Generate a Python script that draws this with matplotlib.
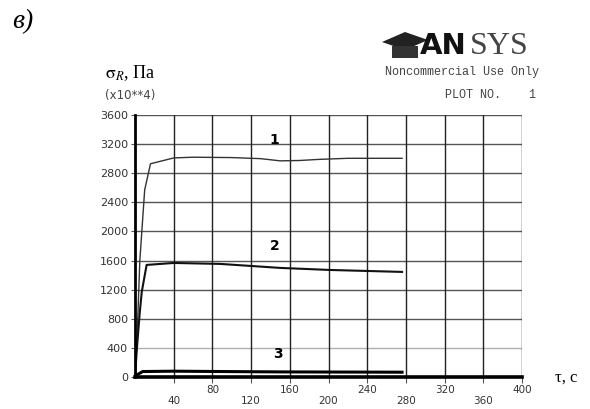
import matplotlib
matplotlib.use("Agg")
import matplotlib.pyplot as plt
from matplotlib.patches import Polygon

plt.rcParams['mathtext.fontset'] = 'stix'

# ---- data ----
t1 = [0, 2, 5, 10, 16, 25, 40, 60, 100, 130, 150, 170, 190, 220, 250, 276]
s1 = [0, 500, 1600, 2570, 2930, 2960, 3010, 3020, 3015, 3000, 2970, 2975, 2990, 3005, 3005, 3005]

t2 = [0, 2, 5, 7, 12, 40, 88, 150, 201, 276]
s2 = [0, 400, 900, 1170, 1540, 1567, 1554, 1499, 1471, 1444]

t3 = [0, 2, 8, 40, 80, 150, 276]
s3 = [0, 30, 75, 80, 76, 70, 66]

x_ticks = [40, 80, 120, 160, 200, 240, 280, 320, 360, 400]
y_ticks = [0, 400, 800, 1200, 1600, 2000, 2400, 2800, 3200, 3600]
curve_labels = ["1", "2", "3"]

W, H = 590, 409
fig = plt.figure(figsize=(W / 100, H / 100), dpi=100)
ax = fig.add_axes([135 / W, 1 - 377 / H, (522 - 135) / W, (377 - 115) / H])
ax.set_xlim(0, 400)
ax.set_ylim(0, 3600)

# grid
for yv in y_ticks[1:]:
    c = '#b0b0b0' if yv == 400 else '#555555'
    ax.axhline(yv, color=c, lw=1.0, zorder=1)
for xv in x_ticks:
    ax.axvline(xv, color='#222222', lw=1.0, zorder=1)

ax.plot(t1, s1, color='#333333', lw=1.0, zorder=3)
ax.plot(t2, s2, color='#111111', lw=1.5, zorder=3)
ax.plot(t3, s3, color='#000000', lw=2.2, zorder=3)

for spine in ['top', 'right']:
    ax.spines[spine].set_visible(False)
ax.spines['left'].set_linewidth(2.0)
ax.spines['bottom'].set_linewidth(2.6)
ax.spines['left'].set_zorder(4)
ax.spines['bottom'].set_zorder(4)

ax.set_yticks(y_ticks)
ax.set_yticklabels([str(v) for v in y_ticks], fontsize=8, family='DejaVu Sans')
ax.tick_params(axis='y', length=3, width=0.8, pad=2, colors='#555555')
ax.set_xticks(x_ticks)
ax.set_xticklabels([str(v) for v in x_ticks], fontsize=7.5, family='DejaVu Sans')
ax.tick_params(axis='x', length=4, width=0.8, colors='#555555', direction='out')
for i, tick in enumerate(ax.xaxis.get_major_ticks()):
    tick.set_pad(10 if i % 2 == 0 else 2)
for lbl in ax.get_xticklabels() + ax.get_yticklabels():
    lbl.set_color('#333333')

# curve labels
ax.text(144, 3250, curve_labels[0], fontsize=10, fontweight='bold', ha='center', va='center')
ax.text(144, 1800, curve_labels[1], fontsize=10, fontweight='bold', ha='center', va='center')
ax.text(148, 320, curve_labels[2], fontsize=10, fontweight='bold', ha='center', va='center')

# axis titles
fig.text(105 / W, 1 - 73 / H, r'$\mathrm{\sigma}_{R}$, Па', fontsize=13, family='Liberation Serif',
         va='center', ha='left')
fig.text(105 / W, 1 - 95 / H, '(x10**4)', fontsize=8.5, color='#444444', va='center', ha='left')
fig.text(555 / W, 1 - 378 / H, 'τ, с', fontsize=12, family='Liberation Serif',
         va='center', ha='left')
fig.text(12 / W, 1 - 22 / H, 'в)', fontsize=20, family='Liberation Serif', style='italic',
         va='center', ha='left')

# ANSYS block
cap = Polygon([[382 / W, 1 - 42 / H], [405 / W, 1 - 32 / H], [428 / W, 1 - 40 / H],
               [405 / W, 1 - 50 / H]], closed=True, transform=fig.transFigure,
              facecolor='#222222', edgecolor='none')
fig.patches.append(cap)
base = Polygon([[392 / W, 1 - 46 / H], [418 / W, 1 - 46 / H], [418 / W, 1 - 58 / H],
                [392 / W, 1 - 58 / H]], closed=True, transform=fig.transFigure,
               facecolor='#333333', edgecolor='none')
fig.patches.append(base)
fig.text(420 / W, 1 - 46 / H, 'AN', fontsize=21, fontweight='bold', family='DejaVu Sans',
         va='center', ha='left', color='#111111')
fig.text(470 / W, 1 - 46 / H, 'SYS', fontsize=23, family='Liberation Serif',
         va='center', ha='left', color='#444444')
fig.text(385 / W, 1 - 72 / H, 'Noncommercial Use Only', fontsize=8.5, family='Liberation Mono',
         va='center', ha='left', color='#444444')
fig.text(445 / W, 1 - 95 / H, 'PLOT NO.    1', fontsize=8.5, family='Liberation Mono',
         va='center', ha='left', color='#444444')

fig.savefig('out.png', dpi=100)
